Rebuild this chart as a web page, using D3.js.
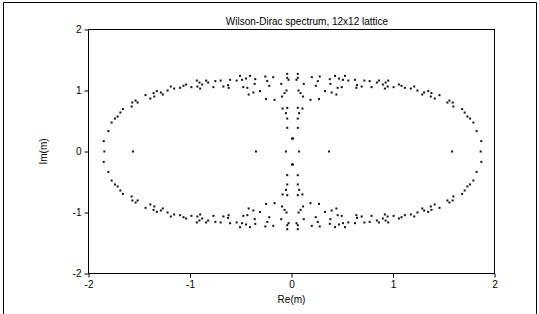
<!DOCTYPE html>
<html><head><meta charset="utf-8">
<script src="https://cdn.jsdelivr.net/npm/d3@7"></script>
<style>html,body{margin:0;padding:0;background:#fff;} svg{display:block;font-family:"Liberation Sans",Arial,sans-serif;}</style>
</head><body><svg id="c" width="539" height="314"></svg>
<script>
// Eigenvalues, grouped by quadrant
const ulRe = [-0.750,-0.841,-0.821,-0.933,-0.907,-0.880,-0.927,-0.900,-0.769,-0.986,-1.038,-1.064,-1.097,-1.156,-1.189,-1.221,-1.287,-1.268,-1.327,-1.359,-1.352,-1.391,-1.438,-1.516,-1.536,-1.568,-1.575,-1.661,-1.686,-1.713,-1.739,-1.772,-1.804,-1.850,-0.698,-0.671,-0.625,-0.619,-0.605,-0.540,-0.507,-0.487,-0.448,-0.409,-0.357,-0.363,-0.475,-0.435,-0.376,-0.422,-0.310,-0.251,-0.167,-0.258,-0.239,-0.180,-0.219,-0.101,-0.042,-0.042,-0.029,-0.049,-0.069,-0.094,-0.088,-0.042,-0.055,-0.042,-0.042];
const ulIm = [1.154,1.163,1.131,1.163,1.131,1.098,1.065,1.032,1.055,1.055,1.098,1.077,1.044,1.032,1.065,1.000,0.967,0.934,0.990,0.957,0.901,0.868,0.924,0.803,0.836,0.803,0.737,0.695,0.639,0.573,0.540,0.475,0.334,0.170,1.163,1.065,1.088,1.044,1.175,1.163,1.240,1.175,1.196,1.240,1.186,1.109,1.055,1.044,0.967,0.934,0.990,0.859,0.847,1.229,1.154,1.219,1.077,1.109,1.273,1.208,1.175,1.000,0.957,0.901,0.704,0.716,0.629,0.540,0.388];
const urRe = [0.770,0.861,0.841,0.953,0.927,0.900,0.947,0.920,0.789,1.006,1.058,1.084,1.117,1.176,1.209,1.241,1.307,1.288,1.347,1.379,1.372,1.411,1.458,1.536,1.556,1.588,1.595,1.681,1.706,1.733,1.759,1.792,1.824,1.870,0.718,0.691,0.645,0.639,0.625,0.560,0.527,0.507,0.468,0.429,0.377,0.383,0.495,0.455,0.396,0.442,0.330,0.271,0.187,0.278,0.259,0.200,0.239,0.121,0.062,0.062,0.049,0.069,0.089,0.114,0.108,0.062,0.075,0.062,0.062];
const urIm = [1.154,1.163,1.131,1.163,1.131,1.098,1.065,1.032,1.055,1.055,1.098,1.077,1.044,1.032,1.065,1.000,0.967,0.934,0.990,0.957,0.901,0.868,0.924,0.803,0.836,0.803,0.737,0.695,0.639,0.573,0.540,0.475,0.334,0.170,1.163,1.065,1.088,1.044,1.175,1.163,1.240,1.175,1.196,1.240,1.186,1.109,1.055,1.044,0.967,0.934,0.990,0.859,0.847,1.229,1.154,1.219,1.077,1.109,1.273,1.208,1.175,1.000,0.957,0.901,0.704,0.716,0.629,0.540,0.388];
const llRe = [-0.750,-0.841,-0.821,-0.933,-0.907,-0.880,-0.927,-0.900,-0.769,-0.986,-1.038,-1.064,-1.097,-1.156,-1.189,-1.221,-1.287,-1.268,-1.327,-1.359,-1.352,-1.391,-1.438,-1.516,-1.536,-1.568,-1.575,-1.661,-1.686,-1.713,-1.739,-1.772,-1.804,-1.850,-0.698,-0.671,-0.625,-0.619,-0.605,-0.540,-0.507,-0.487,-0.448,-0.409,-0.357,-0.363,-0.475,-0.435,-0.376,-0.422,-0.310,-0.251,-0.167,-0.258,-0.239,-0.180,-0.219,-0.101,-0.042,-0.042,-0.029,-0.049,-0.069,-0.094,-0.088,-0.042,-0.055,-0.042,-0.042];
const llIm = [-1.154,-1.163,-1.131,-1.163,-1.131,-1.098,-1.065,-1.032,-1.055,-1.055,-1.098,-1.077,-1.044,-1.032,-1.065,-1.000,-0.967,-0.934,-0.990,-0.957,-0.901,-0.868,-0.924,-0.803,-0.836,-0.803,-0.737,-0.695,-0.639,-0.573,-0.540,-0.475,-0.334,-0.170,-1.163,-1.065,-1.088,-1.044,-1.175,-1.163,-1.240,-1.175,-1.196,-1.240,-1.186,-1.109,-1.055,-1.044,-0.967,-0.934,-0.990,-0.859,-0.847,-1.229,-1.154,-1.219,-1.077,-1.109,-1.273,-1.208,-1.175,-1.000,-0.957,-0.901,-0.704,-0.716,-0.629,-0.540,-0.388];
const lrRe = [0.770,0.861,0.841,0.953,0.927,0.900,0.947,0.920,0.789,1.006,1.058,1.084,1.117,1.176,1.209,1.241,1.307,1.288,1.347,1.379,1.372,1.411,1.458,1.536,1.556,1.588,1.595,1.681,1.706,1.733,1.759,1.792,1.824,1.870,0.718,0.691,0.645,0.639,0.625,0.560,0.527,0.507,0.468,0.429,0.377,0.383,0.495,0.455,0.396,0.442,0.330,0.271,0.187,0.278,0.259,0.200,0.239,0.121,0.062,0.062,0.049,0.069,0.089,0.114,0.108,0.062,0.075,0.062,0.062];
const lrIm = [-1.154,-1.163,-1.131,-1.163,-1.131,-1.098,-1.065,-1.032,-1.055,-1.055,-1.098,-1.077,-1.044,-1.032,-1.065,-1.000,-0.967,-0.934,-0.990,-0.957,-0.901,-0.868,-0.924,-0.803,-0.836,-0.803,-0.737,-0.695,-0.639,-0.573,-0.540,-0.475,-0.334,-0.170,-1.163,-1.065,-1.088,-1.044,-1.175,-1.163,-1.240,-1.175,-1.196,-1.240,-1.186,-1.109,-1.055,-1.044,-0.967,-0.934,-0.990,-0.859,-0.847,-1.229,-1.154,-1.219,-1.077,-1.109,-1.273,-1.208,-1.175,-1.000,-0.957,-0.901,-0.704,-0.716,-0.629,-0.540,-0.388];
const realRe = [-1.844,-1.562,-0.350,-0.055,0.075,0.370,1.582,1.864];
const realIm = [0,0,0,0,0,0,0,0];
const axisRe = [0.005,0.015,0.005,0.015];
const axisIm = [0.213,0.213,-0.213,-0.213];

const xTicks = [-2,-1,0,1,2];
const yTicks = [-2,-1,0,1,2];
const xTickLabels = ["-2","-1","0","1","2"];
const yTickLabels = ["-2","-1","0","1","2"];
const titleText = "Wilson-Dirac spectrum, 12x12 lattice";
const xTitle = "Re(m)";
const yTitle = "Im(m)";

const groups = [[ulRe,ulIm],[urRe,urIm],[llRe,llIm],[lrRe,lrIm],[realRe,realIm],[axisRe,axisIm]];
const points = [];
groups.forEach(([re,im]) => re.forEach((r,i) => points.push({re:r, im:im[i]})));

const svg = d3.select('#c');
const x = d3.scaleLinear().domain([-2,2]).range([88.5,494.5]);
const y = d3.scaleLinear().domain([-2,2]).range([273.5,29.5]);

// outer figure frame
svg.append('path').attr('d','M3.5,314 V2.5 H536.5 V314').attr('fill','none').attr('stroke','#000').attr('stroke-width',1);

// plot frame
svg.append('rect').attr('x',x(-2)).attr('y',y(2)).attr('width',x(2)-x(-2)).attr('height',y(-2)-y(2))
  .attr('fill','none').attr('stroke','#000').attr('stroke-width',1);

const xAxis = svg.append('g').attr('transform',`translate(0,${y(-2)})`)
  .call(d3.axisBottom(x).tickValues(xTicks).tickSize(4).tickPadding(3).tickFormat((d,i)=>xTickLabels[i]));
const yAxis = svg.append('g').attr('transform',`translate(${x(-2)},0)`)
  .call(d3.axisLeft(y).tickValues(yTicks).tickSize(4).tickPadding(3).tickFormat((d,i)=>yTickLabels[i]));
[xAxis,yAxis].forEach(g=>{
  g.select('.domain').remove();
  g.selectAll('text').attr('font-size',10).attr('fill','#000').attr('font-family','"Liberation Sans",Arial,sans-serif');
  g.selectAll('line').attr('stroke','#000');
});

svg.append('text').attr('x',307).attr('y',25).attr('text-anchor','middle').attr('font-size',10).text(titleText);
svg.append('text').attr('x',291.5).attr('y',303).attr('text-anchor','middle').attr('font-size',10).text(xTitle);
svg.append('text').attr('transform','translate(47,151.5) rotate(-90)').attr('text-anchor','middle').attr('font-size',10).text(yTitle);

svg.append('g').selectAll('rect').data(points).join('rect')
  .attr('x',d=>x(d.re)-1).attr('y',d=>y(d.im)-1).attr('width',2).attr('height',2).attr('fill','#111');
</script></body></html>
